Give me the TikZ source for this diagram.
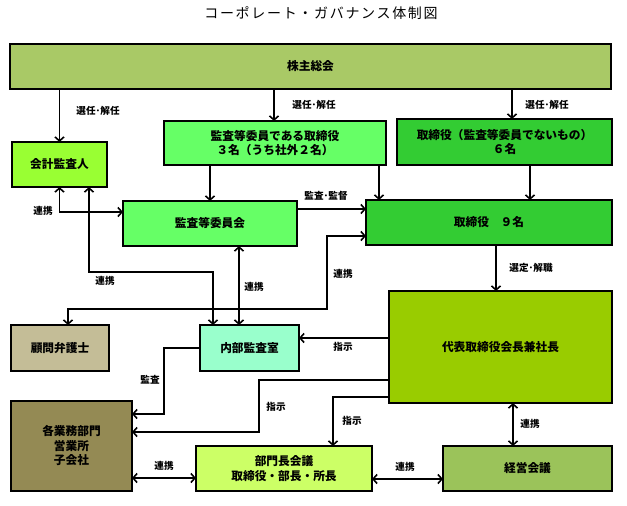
\documentclass[tikz,border=0pt]{standalone}
\usepackage{fontspec}
\newfontfamily\jp{Noto Sans CJK JP}
\usetikzlibrary{arrows.meta}
\definecolor{cSH}{HTML}{A9C966}
\definecolor{cKK}{HTML}{99FF33}
\definecolor{cKT}{HTML}{66FF66}
\definecolor{cTR}{HTML}{33CC33}
\definecolor{cKM}{HTML}{C4BD97}
\definecolor{cNB}{HTML}{99FFCC}
\definecolor{cDH}{HTML}{99CC00}
\definecolor{cKG}{HTML}{948A54}
\definecolor{cBM}{HTML}{CCFF66}
\definecolor{cKE}{HTML}{9BC35A}
\tikzset{
  box/.style={draw=black, line width=1.1pt, align=center, inner sep=0pt, outer sep=0pt,
    font=\jp\bfseries\fontsize{11.7}{14.5}\selectfont},
  lbl/.style={font=\jp\bfseries\fontsize{9.6}{11}\selectfont, inner sep=0pt},
  arr/.style={line width=1.7pt, -{Straight Barb[length=4pt,width=9pt,line width=1.6pt]}},
  dbl/.style={line width=1.7pt, {Straight Barb[length=4pt,width=9pt,line width=1.6pt]}-{Straight Barb[length=4pt,width=9pt,line width=1.6pt]}},
  ln/.style={line width=1.7pt}
}
\begin{document}
\begin{tikzpicture}[x=1pt,y=-1pt]
\useasboundingbox (0,0) rectangle (627,506);
\fill[white] (0,0) rectangle (627,506);
\node[font=\jp\fontsize{14}{16}\selectfont\addfontfeature{LetterSpace=12}, inner sep=0pt] (title) at (321,13) {コーポレート・ガバナンス体制図};

% boxes
\node[box, fill=cSH, minimum width=601pt, minimum height=45pt] (sh) at (310.5,66.5) {株主総会};
\node[box, fill=cKK, minimum width=95pt, minimum height=45pt] (kaikei) at (59.5,164.5) {会計監査人};
\node[box, fill=cKT, minimum width=222pt, minimum height=44pt] (kansatori) at (275,143) {監査等委員である取締役\\３名（うち社外２名）};
\node[box, fill=cTR, minimum width=215pt, minimum height=46pt] (toriother) at (504.5,142) {取締役（監査等委員でないもの）\\６名};
\node[box, fill=cKT, minimum width=174pt, minimum height=45pt] (iinkai) at (210,223.5) {監査等委員会};
\node[box, fill=cTR, minimum width=246pt, minimum height=45pt] (tori9) at (489,222.5) {取締役　９名};
\node[box, fill=cKM, minimum width=98pt, minimum height=46pt] (komon) at (60,348) {顧問弁護士};
\node[box, fill=cNB, minimum width=99pt, minimum height=46pt] (naibu) at (249.5,348) {内部監査室};
\node[box, fill=cDH, minimum width=223pt, minimum height=112pt] (daihyo) at (500.5,347) {代表取締役会長兼社長};
\node[box, fill=cKG, minimum width=121pt, minimum height=90pt] (kakugyomu) at (71.5,446) {各業務部門\\営業所\\子会社};
\node[box, fill=cBM, minimum width=176pt, minimum height=45pt] (bumon) at (284,468.5) {部門長会議\\取締役・部長・所長};
\node[box, fill=cKE, minimum width=169pt, minimum height=45pt] (keiei) at (527.5,468.5) {経営会議};

% helper coordinates
\coordinate (x2) at (274,0);
\coordinate (x3) at (512,0);
\coordinate (x5) at (379,0);
\coordinate (x6) at (530,0);
\coordinate (y7) at (0,209);
\coordinate (b8) at (59,212);
\coordinate (b9a) at (89,272);
\coordinate (b9b) at (213,272);
\coordinate (x10) at (239,0);
\coordinate (b11a) at (327,236);
\coordinate (b11b) at (327,309);
\coordinate (b11c) at (68,309);
\coordinate (x12) at (496,0);
\coordinate (y13) at (0,338);
\coordinate (b14a) at (164,348);
\coordinate (b14b) at (164,414);
\coordinate (b15a) at (259,380);
\coordinate (b15b) at (259,432);
\coordinate (b16) at (333,397);
\coordinate (x17) at (513,0);
\coordinate (y18) at (0,478);
\coordinate (y19) at (0,479);

% connectors
\draw[arr] (sh.south -| kaikei.north) -- (kaikei.north);
\draw[arr] (sh.south -| x2) -- (kansatori.north -| x2);
\draw[arr] (sh.south -| x3) -- (toriother.north -| x3);
\draw[arr] (kansatori.south -| iinkai.north) -- (iinkai.north);
\draw[arr] (kansatori.south -| x5) -- (tori9.north -| x5);
\draw[arr] (toriother.south -| x6) -- (tori9.north -| x6);
\draw[arr] (iinkai.east |- y7) -- (tori9.west |- y7);
\draw[dbl] (kaikei.south) |- (iinkai.west |- b8);
\draw[dbl] (kaikei.south -| b9a) -- (b9a) -- (b9b) -- (naibu.north -| b9b);
\draw[dbl] (iinkai.south -| x10) -- (naibu.north -| x10);
\draw[dbl] (tori9.west |- b11a) -- (b11a) -- (b11b) -- (b11c) -- (komon.north -| b11c);
\draw[arr] (tori9.south -| x12) -- (daihyo.north -| x12);
\draw[arr] (daihyo.west |- y13) -- (naibu.east |- y13);
\draw[arr] (naibu.west |- b14a) -- (b14a) -- (b14b) -- (kakugyomu.east |- b14b);
\draw[arr] (daihyo.west |- b15a) -- (b15a) -- (b15b) -- (kakugyomu.east |- b15b);
\draw[arr] (daihyo.west |- b16) -- (b16) -- (bumon.north -| b16);
\draw[dbl] (daihyo.south -| x17) -- (keiei.north -| x17);
\draw[dbl] (kakugyomu.east |- y18) -- (bumon.west |- y18);
\draw[dbl] (bumon.east |- y19) -- (keiei.west |- y19);

% labels
\node[lbl] (l1) at (98,111) {選任･解任};
\node[lbl] (l2) at (314,105) {選任･解任};
\node[lbl] (l3) at (547,105) {選任･解任};
\node[lbl] (l7) at (326,196) {監査･監督};
\node[lbl] (l8) at (43,211) {連携};
\node[lbl] (l9) at (105,281) {連携};
\node[lbl] (l10) at (254,287) {連携};
\node[lbl] (l11) at (343,274) {連携};
\node[lbl] (l12) at (531,268) {選定･解職};
\node[lbl] (l13) at (343,347) {指示};
\node[lbl] (l14) at (150,380) {監査};
\node[lbl] (l15) at (276,407) {指示};
\node[lbl] (l16) at (352,421) {指示};
\node[lbl] (l17) at (530,424) {連携};
\node[lbl] (l18) at (164,466) {連携};
\node[lbl] (l19) at (405,467) {連携};
\end{tikzpicture}
\end{document}
